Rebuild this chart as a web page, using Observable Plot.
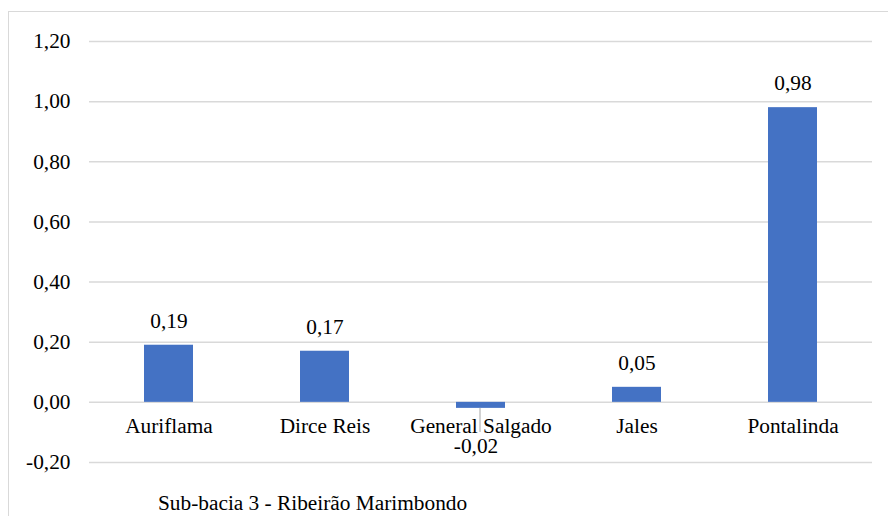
<!DOCTYPE html>
<html>
<head>
<meta charset="utf-8">
<script src="https://cdn.jsdelivr.net/npm/d3@7"></script>
<script src="https://cdn.jsdelivr.net/npm/@observablehq/plot@0.6"></script>
<style>
  html, body { margin: 0; padding: 0; background: #fff; overflow: hidden; }
  #chart { position: relative; width: 888px; height: 516px; overflow: hidden;
           font-family: 'Liberation Serif', 'Times New Roman', serif; }
  #chart svg { position: absolute; left: 0; top: 0; }
  #chart svg, #chart svg text { font-family: 'Liberation Serif', 'Times New Roman', serif; }
  .borda { position: absolute; left: 8px; top: 11px; width: 920px; height: 600px;
           border: 1.5px solid #d9d9d9; box-sizing: border-box; }
  .legenda { position: absolute; left: 158px; top: 491px; white-space: nowrap; line-height: normal;
             font-family: 'Liberation Serif', 'Times New Roman', serif; font-size: 21.33px; color: #000; }
</style>
</head>
<body>
<div id="chart"><div class="borda"></div></div>
<script>
// Índice por município da sub-bacia
const municipios = ["Auriflama", "Dirce Reis", "General Salgado", "Jales", "Pontalinda"];
const valores = [0.19, 0.17, -0.02, 0.05, 0.98];
const yTicks = [-0.2, 0, 0.2, 0.4, 0.6, 0.8, 1.0, 1.2];
const legenda = "Sub-bacia 3 - Ribeirão Marimbondo";

const fmt = v => v.toFixed(2).replace(".", ",");
const dados = municipios.map((m, i) => ({m, v: valores[i]}));
const positivos = dados.filter(d => d.v >= 0);
const negativos = dados.filter(d => d.v < 0);

const serif = "'Liberation Serif', 'Times New Roman', serif";
const fs = 21.33;

const plot = Plot.plot({
  width: 888,
  height: 516,
  marginTop: 41,
  marginBottom: 54,
  marginLeft: 89,
  marginRight: 16,
  style: {fontFamily: serif, fontSize: `${fs}px`, color: "#000", background: "transparent"},
  x: {domain: municipios, paddingInner: 0.685, paddingOuter: 0.3425, axis: null},
  y: {domain: [-0.2, 1.2], axis: null},
  marks: [
    Plot.gridY(yTicks, {stroke: "#d9d9d9", strokeOpacity: 1, strokeWidth: 1.5}),
    Plot.axisY(yTicks, {tickSize: 0, tickPadding: 19, tickFormat: fmt, label: null, fontSize: fs, fill: "#000"}),
    Plot.barY(dados, {x: "m", y: "v", fill: "#4472C4"}),
    Plot.text(dados, {x: "m", y: () => 0, text: "m", dy: 24, fontSize: fs, fill: "#000"}),
    Plot.text(positivos, {x: "m", y: "v", text: d => fmt(d.v), dy: -24, fontSize: fs, fill: "#000"}),
    Plot.ruleX(negativos, {x: "m", y1: "v", y2: () => -0.1, dx: -1, stroke: "#a6a6a6", strokeWidth: 1}),
    Plot.text(negativos, {x: "m", y: "v", text: d => fmt(d.v), dy: 38, dx: -5, fontSize: fs, fill: "#000"})
  ]
});

const chart = document.getElementById("chart");
chart.appendChild(plot);
const cap = document.createElement("div");
cap.className = "legenda";
cap.textContent = legenda;
chart.appendChild(cap);
</script>
</body>
</html>
